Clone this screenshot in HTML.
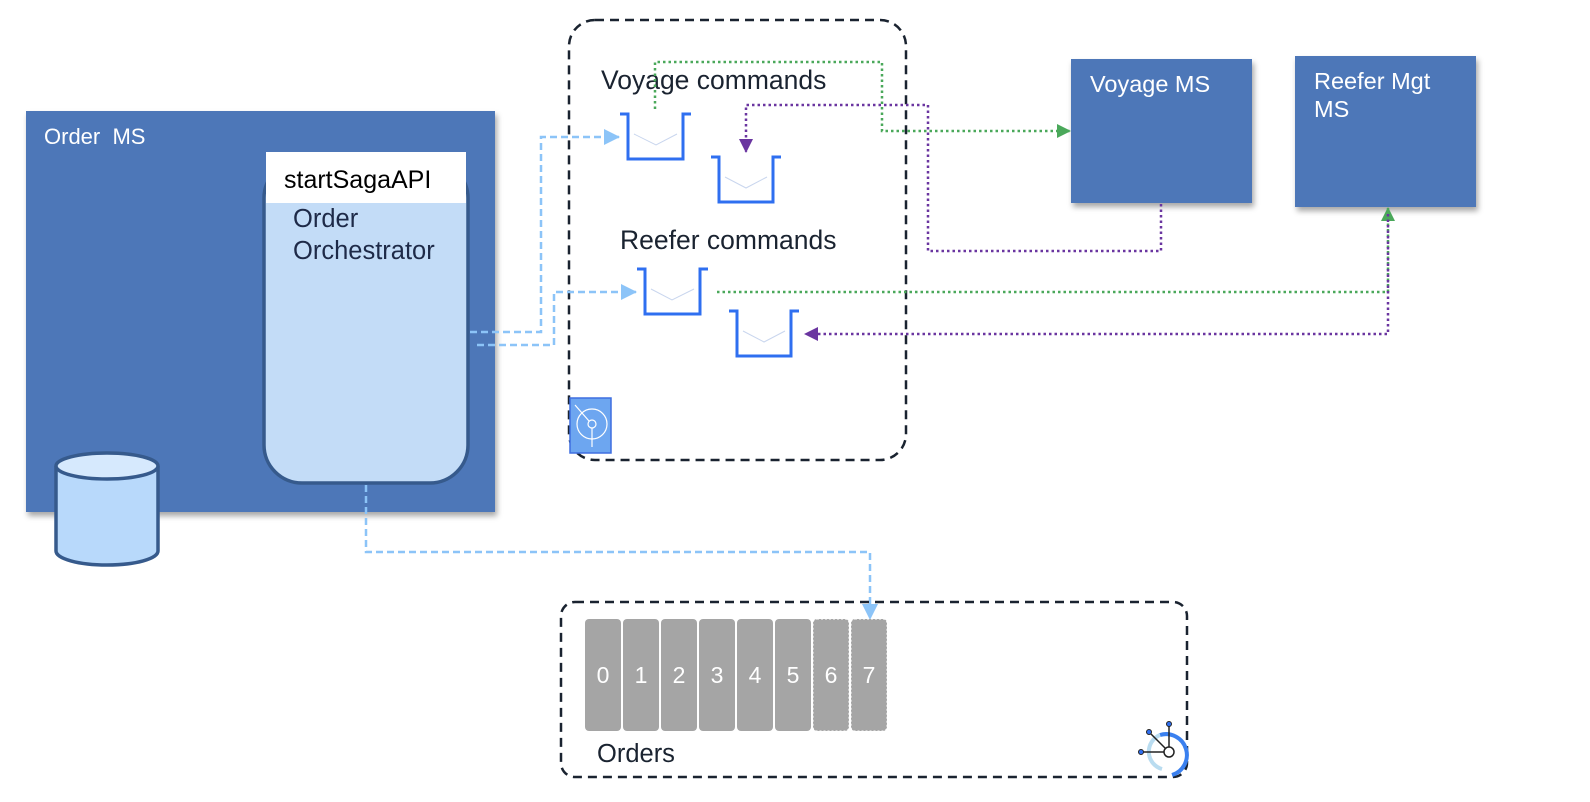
<!DOCTYPE html>
<html><head><meta charset="utf-8"><style>
html,body{margin:0;padding:0;background:#fff;width:1590px;height:802px;overflow:hidden}
svg{display:block}
text{font-family:"Liberation Sans",Arial,sans-serif}
</style></head><body>
<svg width="1590" height="802" viewBox="0 0 1590 802" xmlns="http://www.w3.org/2000/svg">
<defs>
<filter id="sh" x="-10%" y="-10%" width="130%" height="130%"><feDropShadow dx="2" dy="4" stdDeviation="3" flood-color="#000" flood-opacity="0.35"/></filter>
<marker id="ab" markerWidth="16" markerHeight="16" refX="15" refY="8" orient="auto" markerUnits="userSpaceOnUse"><path d="M0,0 L16,8 L0,16z" fill="#8cc4f8"/></marker>
<marker id="ag" markerWidth="14" markerHeight="14" refX="13" refY="7" orient="auto" markerUnits="userSpaceOnUse"><path d="M0,0 L14,7 L0,14z" fill="#4aa85a"/></marker>
<marker id="ap" markerWidth="14" markerHeight="14" refX="13" refY="7" orient="auto" markerUnits="userSpaceOnUse"><path d="M0,0 L14,7 L0,14z" fill="#6a35a0"/></marker>
</defs>

<!-- Order MS -->
<rect x="26" y="111" width="469" height="401" fill="#4d77b8" filter="url(#sh)"/>
<text x="44" y="144" font-size="22" fill="#fff" xml:space="preserve">Order  MS</text>
<rect x="264" y="160" width="204" height="323" rx="38" fill="#c3dcf7" stroke="#365a8c" stroke-width="3.5"/>
<rect x="266" y="152" width="200" height="51" fill="#fff"/>
<text x="284" y="188" font-size="25" fill="#000">startSagaAPI</text>
<text x="293" y="227" font-size="25.5" fill="#1e2a48">Order</text>
<text x="293" y="259" font-size="25.5" fill="#1e2a48">Orchestrator</text>
<!-- cylinder -->
<path d="M56,466 L56,551 A51,14 0 0 0 158,551 L158,466" fill="#b8d9fb" stroke="#365a8c" stroke-width="3.5"/>
<ellipse cx="107" cy="466" rx="51" ry="13" fill="#d6e9fd" stroke="#365a8c" stroke-width="3.5"/>

<!-- topic box -->
<rect x="569" y="20" width="337" height="440" rx="26" fill="none" stroke="#1a2330" stroke-width="2.5" stroke-dasharray="9,6"/>
<text x="601" y="89" font-size="26.5" fill="#1a2330">Voyage commands</text>
<text x="620" y="249" font-size="26.5" fill="#1a2330">Reefer commands</text>
<g fill="#f7faff" stroke="#2f6ff0" stroke-width="3">
<path d="M620,114 L628,114 L628,159 L683,159 L683,114 L691,114" fill="none"/>
<path d="M711,157 L719,157 L719,202 L773,202 L773,157 L781,157" fill="none"/>
<path d="M637,269 L645,269 L645,314 L700,314 L700,269 L708,269" fill="none"/>
<path d="M729,311 L737,311 L737,356 L791,356 L791,311 L799,311" fill="none"/>
</g>
<g fill="none" stroke="#c9d6ee" stroke-width="1">
<path d="M634,134 L656,145 L677,134"/><path d="M725,177 L746,188 L767,177"/>
<path d="M651,289 L672,300 L694,289"/><path d="M743,331 L764,342 L785,331"/>
</g>
<!-- topic icon -->
<rect x="570" y="398" width="41" height="55" fill="#6da6f0" stroke="#3e6fe0" stroke-width="1.5"/>
<circle cx="592" cy="424" r="15" fill="none" stroke="#fff" stroke-width="1.2"/>
<circle cx="592" cy="424" r="4" fill="none" stroke="#fff" stroke-width="1.2"/>
<line x1="575" y1="405" x2="589" y2="421" stroke="#fff" stroke-width="1.2"/>
<line x1="592" y1="428" x2="592" y2="447" stroke="#fff" stroke-width="1.2"/>

<!-- Voyage MS / Reefer -->
<rect x="1071" y="59" width="181" height="144" fill="#4d77b8" filter="url(#sh)"/>
<text x="1090" y="92" font-size="23.5" fill="#fff">Voyage MS</text>
<rect x="1295" y="56" width="181" height="151" fill="#4d77b8" filter="url(#sh)"/>
<text x="1314" y="89" font-size="23.5" fill="#fff">Reefer Mgt</text>
<text x="1314" y="117" font-size="23.5" fill="#fff">MS</text>

<!-- blue dashed connectors -->
<g fill="none" stroke="#8cc4f8" stroke-width="2.5" stroke-dasharray="7,4">
<path d="M470,332 L541,332 L541,137 L619,137" marker-end="url(#ab)"/>
<path d="M477,345 L554,345 L554,292 L636,292" marker-end="url(#ab)"/>
<path d="M366,485 L366,552 L870,552 L870,619" marker-end="url(#ab)"/>
</g>
<!-- green dotted -->
<g fill="none" stroke="#4aa85a" stroke-width="2.5" stroke-dasharray="2.5,3">
<path d="M655,109 L655,62 L882,62 L882,131 L1070,131" marker-end="url(#ag)"/>
<path d="M717,292 L1388,292 L1388,208" marker-end="url(#ag)"/>
</g>
<!-- purple dotted -->
<g fill="none" stroke="#6a35a0" stroke-width="2.5" stroke-dasharray="2.5,3">
<path d="M1161,204 L1161,251 L928,251 L928,105 L746,105 L746,152" marker-end="url(#ap)"/>
<path d="M1388,214 L1388,334 L805,334" marker-end="url(#ap)"/>
</g>

<!-- Orders topic -->
<rect x="561" y="602" width="626" height="175" rx="14" fill="none" stroke="#1a2330" stroke-width="2.5" stroke-dasharray="9,6"/>
<g fill="#a5a5a5">
<rect x="585" y="619" width="36" height="112" rx="4"/>
<rect x="623" y="619" width="36" height="112" rx="4"/>
<rect x="661" y="619" width="36" height="112" rx="4"/>
<rect x="699" y="619" width="36" height="112" rx="4"/>
<rect x="737" y="619" width="36" height="112" rx="4"/>
<rect x="775" y="619" width="36" height="112" rx="4"/>
<rect x="813" y="619" width="36" height="112" rx="4" stroke="#fff" stroke-dasharray="2,2"/>
<rect x="851" y="619" width="36" height="112" rx="4" stroke="#fff" stroke-dasharray="2,2"/>
</g>
<g fill="#fff" font-size="23" text-anchor="middle">
<text x="603" y="683">0</text><text x="641" y="683">1</text><text x="679" y="683">2</text><text x="717" y="683">3</text>
<text x="755" y="683">4</text><text x="793" y="683">5</text><text x="831" y="683">6</text><text x="869" y="683">7</text>
</g>
<text x="597" y="762" font-size="25.5" fill="#1a2330">Orders</text>
<!-- orders icon -->
<path d="M1160,735 A18,18 0 0 1 1172,775" fill="none" stroke="#3a80ef" stroke-width="4"/>
<path d="M1160,735 A18,18 0 0 0 1162,769" fill="none" stroke="#b9dcf0" stroke-width="4"/>
<line x1="1142" y1="752" x2="1165" y2="752" stroke="#222" stroke-width="1.5"/>
<line x1="1150" y1="733" x2="1166" y2="749" stroke="#222" stroke-width="1.5"/>
<line x1="1169" y1="724" x2="1169" y2="747" stroke="#222" stroke-width="1.5"/>
<circle cx="1169" cy="752" r="5" fill="#fff" stroke="#222" stroke-width="1.5"/>
<circle cx="1141" cy="752" r="2.5" fill="#2f6ff0" stroke="#222"/>
<circle cx="1149" cy="732" r="2.5" fill="#2f6ff0" stroke="#222"/>
<circle cx="1169" cy="724" r="2.5" fill="#2f6ff0" stroke="#222"/>
</svg>
</body></html>
